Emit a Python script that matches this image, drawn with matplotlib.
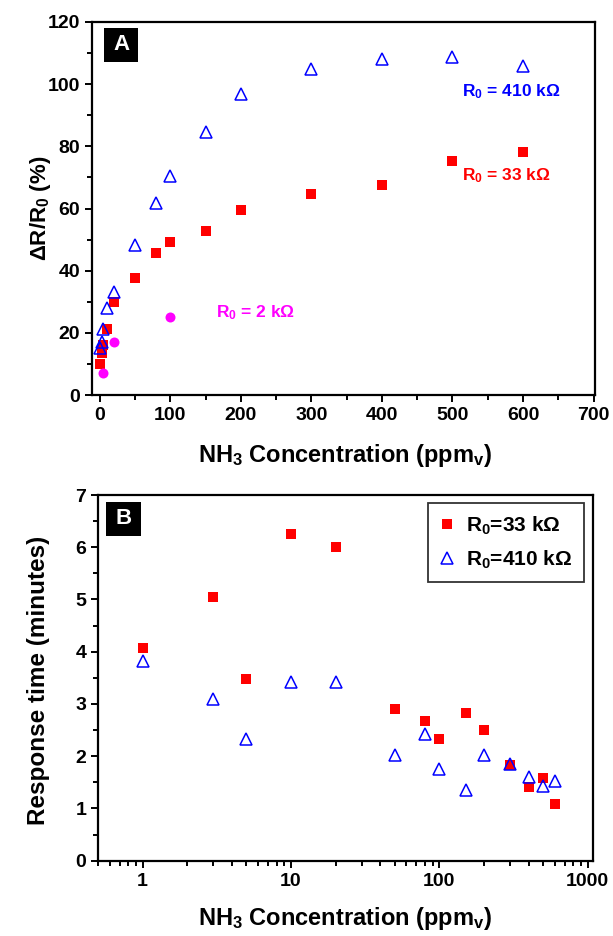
import matplotlib
matplotlib.use("Agg")
import matplotlib.pyplot as plt
from matplotlib.patches import Rectangle
from matplotlib.ticker import MultipleLocator, LogLocator, NullFormatter, FixedLocator, FixedFormatter

plt.rcParams['font.family'] = ['Liberation Sans', 'DejaVu Sans']
plt.rcParams['font.weight'] = 'bold'
plt.rcParams['mathtext.fontset'] = 'custom'
plt.rcParams['mathtext.rm'] = 'Liberation Sans'
plt.rcParams['mathtext.bf'] = 'Liberation Sans:bold'
plt.rcParams['mathtext.it'] = 'Liberation Sans:bold'

# ---------------- data ----------------
conc = [1, 3, 5, 10, 20, 50, 80, 100, 150, 200, 300, 400, 500, 600]
sens_33k = [9.9, 13.5, 16.1, 21.1, 30.0, 37.5, 45.6, 49.3, 52.7, 59.4, 64.6, 67.6, 75.4, 78.1]
sens_410k = [15.0, 17.2, 21.1, 27.9, 33.2, 48.3, 61.7, 70.6, 84.5, 96.7, 104.8, 108.1, 108.8, 105.9]
conc_2k = [5, 20, 100]
sens_2k = [7.0, 17.0, 25.0]

resp_33k = [4.07, 5.05, 3.48, 6.25, 6.00, 2.90, 2.67, 2.32, 2.82, 2.51, 1.83, 1.42, 1.59, 1.08]
resp_410k = [3.82, 3.09, 2.32, 3.42, 3.43, 2.02, 2.43, 1.76, 1.35, 2.02, 1.85, 1.60, 1.43, 1.52]

RED = '#ff0000'
BLUE = '#0000ff'
MAG = '#ff00ff'
OHM = '$\\mathrm{\\Omega}$'

fig = plt.figure(figsize=(6.13, 9.36), dpi=100)

def style_axes(ax):
    for s in ax.spines.values():
        s.set_linewidth(1.6)
    ax.tick_params(which='both', direction='out', top=False, right=False, width=1.4, labelsize=14)
    ax.tick_params(which='major', length=5)
    ax.tick_params(which='minor', length=3.5)
    for lab in ax.get_xticklabels() + ax.get_yticklabels():
        lab.set_fontweight('bold')

def panel_label(ax, txt, x0, x1, y0, y1):
    ax.add_patch(Rectangle((x0, y0), x1 - x0, y1 - y0, transform=ax.transAxes,
                           facecolor='black', edgecolor='none', zorder=5))
    ax.text((x0 + x1) / 2, (y0 + y1) / 2, txt, transform=ax.transAxes, color='white',
            fontsize=16, fontweight='bold', ha='center', va='center', zorder=6)

# ---------------- Panel A ----------------
axA = fig.add_axes([92/613, 1-395/936, (595-92)/613, (395-22)/936])
axA.plot(conc, sens_33k, 's', color=RED, markersize=6.8, markeredgewidth=0, linestyle='none')
axA.plot(conc, sens_410k, '^', markerfacecolor='none', markeredgecolor=BLUE, markersize=8.5,
         markeredgewidth=1.1, linestyle='none')
axA.plot(conc_2k, sens_2k, 'o', color=MAG, markersize=7.2, markeredgewidth=0, linestyle='none')
axA.set_xlim(-11, 702)
axA.set_ylim(0, 120)
axA.xaxis.set_major_locator(MultipleLocator(100))
axA.xaxis.set_minor_locator(MultipleLocator(50))
axA.yaxis.set_major_locator(MultipleLocator(20))
axA.yaxis.set_minor_locator(MultipleLocator(10))
style_axes(axA)
axA.set_xlabel('NH$_\\mathbf{3}$ Concentration (ppm$_\\mathbf{v}$)', fontsize=17, fontweight='bold', va='center')
axA.xaxis.set_label_coords(0.503, -0.161)
axA.set_ylabel('ΔR/R$_\\mathbf{0}$ (%)', fontsize=16, fontweight='bold', va='center')
axA.yaxis.set_label_coords(-0.103, 0.5)
axA.text(513, 97.5, 'R$_\\mathbf{0}$ = 410 k' + OHM, color=BLUE, fontsize=12.5, fontweight='bold', va='center', ha='left')
axA.text(513, 70.5, 'R$_\\mathbf{0}$ = 33 k' + OHM, color=RED, fontsize=12.5, fontweight='bold', va='center', ha='left')
axA.text(165, 26.5, 'R$_\\mathbf{0}$ = 2 k' + OHM, color=MAG, fontsize=12.5, fontweight='bold', va='center', ha='left')
panel_label(axA, 'A', 0.024, 0.0915, 0.893, 0.984)

# ---------------- Panel B ----------------
axB = fig.add_axes([98/613, 1-860.7/936, (592.7-98)/613, (860.7-495)/936])
axB.plot(conc, resp_33k, 's', color=RED, markersize=6.8, markeredgewidth=0, linestyle='none',
         label='R$_\\mathbf{0}$=33 k' + OHM)
axB.plot(conc, resp_410k, '^', markerfacecolor='none', markeredgecolor=BLUE, markersize=8.5,
         markeredgewidth=1.1, linestyle='none', label='R$_\\mathbf{0}$=410 k' + OHM)
axB.set_xscale('log')
axB.set_xlim(0.5, 1080)
axB.set_ylim(0, 7)
axB.xaxis.set_minor_locator(LogLocator(base=10, subs=range(2, 10), numticks=20))
axB.xaxis.set_minor_formatter(NullFormatter())
axB.xaxis.set_major_locator(FixedLocator([1, 10, 100, 1000]))
axB.xaxis.set_major_formatter(FixedFormatter(['1', '10', '100', '1000']))
axB.yaxis.set_major_locator(MultipleLocator(1))
axB.yaxis.set_minor_locator(MultipleLocator(0.5))
style_axes(axB)
axB.set_xlabel('NH$_\\mathbf{3}$ Concentration (ppm$_\\mathbf{v}$)', fontsize=17, fontweight='bold', va='center')
axB.xaxis.set_label_coords(0.499, -0.157)
axB.set_ylabel('Response time (minutes)', fontsize=17.5, fontweight='bold', va='center')
axB.yaxis.set_label_coords(-0.121, 0.494)
leg = axB.legend(loc='upper right', bbox_to_anchor=(0.982, 0.978), borderaxespad=0,
                 fontsize=15, frameon=True, fancybox=False, edgecolor='black',
                 handlelength=0.8, handletextpad=0.5, borderpad=0.55, labelspacing=0.55)
leg.get_frame().set_linewidth(1.3)
for t in leg.get_texts():
    t.set_fontweight('bold')
panel_label(axB, 'B', 0.0156, 0.0863, 0.889, 0.982)

fig.savefig('out.png', dpi=100)
